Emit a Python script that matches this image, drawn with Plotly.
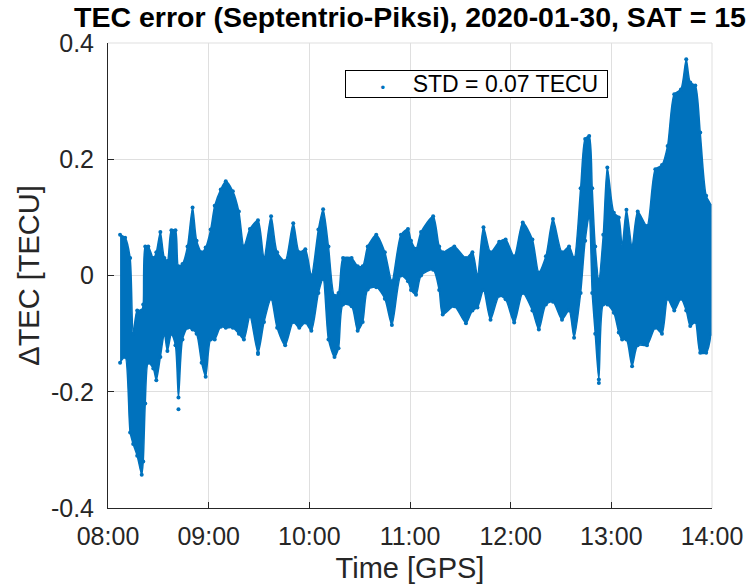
import pandas as pd
import plotly.graph_objects as go

# Time since 08:00 GPS, in hours
t_hours = [0.12, 0.17, 0.22, 0.25, 0.29, 0.335, 0.35, 0.37, 0.40, 0.45, 0.48, 0.52, 0.56, 0.59,
           0.63, 0.67, 0.70, 0.74, 0.79, 0.84, 0.88, 0.93, 0.97, 1.02, 1.06, 1.12, 1.17, 1.24,
           1.30, 1.35, 1.41, 1.49, 1.55, 1.62, 1.68, 1.76, 1.84, 1.90, 1.96, 2.02, 2.09, 2.137,
           2.19, 2.25, 2.29, 2.335, 2.42, 2.48, 2.53, 2.58, 2.665, 2.75, 2.82, 2.91, 2.98, 3.01,
           3.06, 3.11, 3.23, 3.29, 3.325, 3.44, 3.556, 3.62, 3.67, 3.73, 3.80, 3.886, 3.95, 4.035,
           4.12, 4.216, 4.28, 4.35, 4.42, 4.51, 4.58, 4.63, 4.695, 4.74, 4.78, 4.81, 4.84, 4.876,
           4.92, 4.96, 5.025, 5.074, 5.107, 5.15, 5.206, 5.262, 5.354, 5.437, 5.503, 5.559, 5.625,
           5.691, 5.744, 5.784, 5.834, 5.883, 5.942, 5.99]

# Upper and lower extent of the TEC difference scatter (TECU)
tec_upper = [0.07, 0.065, 0.03, -0.10, -0.06, -0.06, -0.05, 0.05, 0.05, 0.03, 0.04, 0.075, 0.03, 0.025,
             0.078, 0.078, 0.016, 0.02, 0.05, 0.117, 0.06, 0.04, 0.048, 0.079, 0.12, 0.148, 0.162, 0.145,
             0.11, 0.05, 0.08, 0.095, 0.03, 0.102, 0.04, 0.025, 0.09, 0.04, 0.045, 0.0, 0.079, 0.114,
             0.05, -0.035, -0.03, 0.03, 0.03, 0.016, 0.016, 0.05, 0.07, 0.04, -0.01, 0.07, 0.08, 0.06,
             0.046, 0.075, 0.102, 0.05, 0.04, 0.05, 0.03, 0.04, 0.0, 0.083, 0.04, 0.058, 0.062, 0.033,
             0.091, 0.062, 0.005, 0.033, 0.097, 0.04, 0.05, 0.03, 0.15, 0.235, 0.24, 0.15, 0.05, -0.007,
             0.07, 0.186, 0.108, 0.10, 0.05, 0.113, 0.05, 0.11, 0.085, 0.183, 0.19, 0.223, 0.312,
             0.32, 0.372, 0.332, 0.327, 0.246, 0.137, 0.12]
tec_lower = [-0.15, -0.14, -0.27, -0.29, -0.31, -0.343, -0.32, -0.22, -0.15, -0.16, -0.18, -0.14, -0.10, -0.13,
             -0.10, -0.12, -0.21, -0.11, -0.09, -0.093, -0.10, -0.15, -0.174, -0.11, -0.11, -0.088, -0.09, -0.09,
             -0.10, -0.11, -0.07, -0.133, -0.08, -0.04, -0.09, -0.12, -0.08, -0.09, -0.081, -0.095, -0.03, -0.006,
             -0.11, -0.14, -0.125, -0.05, -0.053, -0.095, -0.08, -0.024, -0.02, -0.04, -0.085, 0.0, -0.01, -0.025,
             -0.033, 0.0, 0.01, -0.025, -0.067, -0.053, -0.082, -0.06, -0.055, -0.025, -0.076, -0.035, -0.041, -0.081,
             -0.03, -0.06, -0.093, -0.05, -0.045, -0.076, -0.06, -0.107, -0.03, 0.06, 0.10, -0.03, -0.10, -0.179,
             -0.05, -0.05, -0.064, -0.098, -0.11, -0.11, -0.156, -0.12, -0.12, -0.09, -0.10, -0.04, -0.06,
             -0.04, -0.06, -0.087, -0.08, -0.133, -0.133, -0.10]

# Isolated outlying samples
out_hours = [0.70, 1.49, 4.876]
out_tec = [-0.23, -0.135, -0.185]

y_ticks = [-0.4, -0.2, 0, 0.2, 0.4]
y_ticktext = ["-0.4", "-0.2", "0", "0.2", "0.4"]
legend_label = "STD = 0.07 TECU"

BLUE = "#0072BD"
INK = "#262626"
GRID = "#dfdfdf"
FONT = "Liberation Sans"

t0 = pd.Timestamp("2020-01-30 08:00:00")
times = [t0 + pd.Timedelta(hours=h) for h in t_hours]
out_times = [t0 + pd.Timedelta(hours=h) for h in out_hours]

fig = go.Figure()

# Dense sample cloud rendered as the area between its upper and lower extent
fig.add_trace(go.Scatter(
    x=times + times[::-1],
    y=tec_upper + tec_lower[::-1],
    mode="lines",
    fill="toself",
    fillcolor=BLUE,
    line=dict(color=BLUE, width=1.5, shape="spline", smoothing=0.7),
    hoverinfo="skip",
    showlegend=False,
))

fig.add_trace(go.Scatter(
    x=times + times + out_times,
    y=tec_upper + tec_lower + out_tec,
    mode="markers",
    marker=dict(color=BLUE, size=4),
    hoverinfo="skip",
    showlegend=False,
))

# Legend box: marker sample and label
legend_text = (
    "\u2003\u2002"
    + "<span style='color:%s;font-size:13px'>•</span>" % BLUE
    + "\u2003\u2009"
    + legend_label
    + "\u2009\u2009"
)
fig.add_annotation(
    xref="paper", yref="paper",
    x=(345 - 108) / 604, y=(508 - 70) / 465,
    xanchor="left", yanchor="top",
    text=legend_text,
    showarrow=False,
    align="left",
    font=dict(family=FONT, size=23, color="black"),
    bgcolor="white", bordercolor="black", borderwidth=1, borderpad=0,
)

fig.update_layout(
    width=753, height=586,
    margin=dict(l=108, r=41, t=43, b=78),
    paper_bgcolor="white",
    plot_bgcolor="white",
    font=dict(family=FONT, color=INK, size=25),
    title=dict(
        text="<b>TEC error (Septentrio-Piksi), 2020-01-30, SAT = 15</b>",
        font=dict(family=FONT, size=28.5, color="black"),
        x=0.5, xref="paper", xanchor="center",
        y=1 - 17 / 586, yref="container", yanchor="middle",
    ),
    showlegend=False,
)

fig.update_xaxes(
    range=[t0, t0 + pd.Timedelta(hours=6)],
    tickformat="%H:%M",
    dtick=3600000,
    tick0=t0,
    showgrid=True, gridcolor=GRID, gridwidth=1,
    showline=True, linecolor=INK, linewidth=1, mirror=False,
    ticks="inside", ticklen=6, tickcolor=INK,
    ticklabelstandoff=6,
    tickfont=dict(size=25, color=INK),
    zeroline=False,
    title=dict(text="Time [GPS]", font=dict(size=29, color=INK), standoff=8),
    automargin=False,
)

fig.update_yaxes(
    range=[-0.4, 0.4],
    tickvals=y_ticks, ticktext=y_ticktext,
    showgrid=True, gridcolor=GRID, gridwidth=1,
    showline=True, linecolor=INK, linewidth=1, mirror=False,
    ticks="inside", ticklen=6, tickcolor=INK,
    ticklabelstandoff=8,
    tickfont=dict(size=25, color=INK),
    zeroline=False,
    title=dict(text="ΔTEC [TECU]", font=dict(size=29, color=INK), standoff=2),
    automargin=False,
)

# Light frame on the top and right edges of the axes
fig.add_shape(type="line", xref="paper", yref="paper", x0=0, x1=1, y0=1, y1=1,
              line=dict(color=GRID, width=1))
fig.add_shape(type="line", xref="paper", yref="paper", x0=1, x1=1, y0=0, y1=1,
              line=dict(color=GRID, width=1))

fig.write_html("out.html")
